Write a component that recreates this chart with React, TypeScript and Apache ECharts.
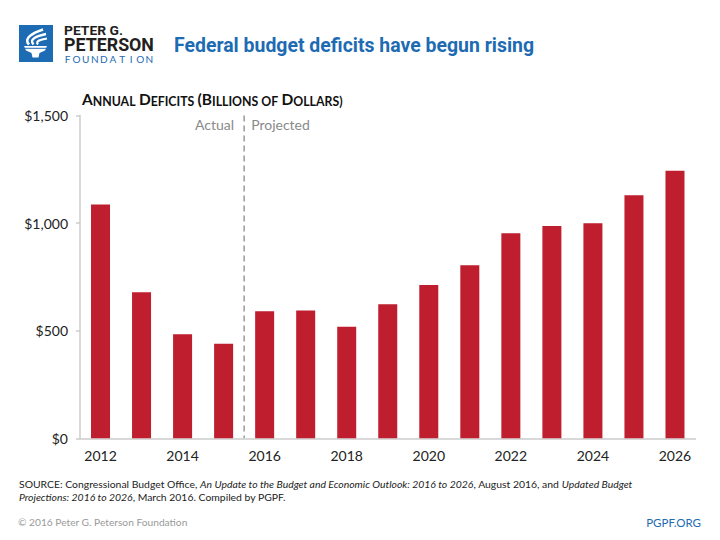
import React, { useEffect, useRef } from "react";
import * as echarts from "echarts";

const years = ["2012", "2013", "2014", "2015", "2016", "2017", "2018", "2019", "2020", "2021", "2022", "2023", "2024", "2025", "2026"];
const deficits = [1087, 679, 484, 439, 590, 594, 518, 623, 713, 804, 953, 987, 1000, 1130, 1244];
const yMin = 0;
const yMax = 1500;
const yStep = 500;
const lastActualYear = "2015";
const firstProjectedYear = "2016";

const BLUE = "#1d6bb3";
const RED = "#be1e2d";
const FONT = "Lato, 'Open Sans', sans-serif";
const HEAD = "Roboto, 'Liberation Sans', sans-serif";

function measure(text: string, font: string): number {
  const c = document.createElement("canvas").getContext("2d");
  if (!c) return 100;
  c.font = font;
  return c.measureText(text).width;
}

export default function App() {
  const ref = useRef<HTMLDivElement>(null);
  useEffect(() => {
    if (!ref.current) return;
    const chart = echarts.init(ref.current, null, { renderer: "svg" });
    chart.setOption({
      animation: false,
      backgroundColor: "#ffffff",
      grid: { left: 80, right: 24.5, top: 115.6, bottom: 101.7, containLabel: false },
      xAxis: {
        type: "category",
        data: years,
        axisLine: { show: true, lineStyle: { color: "#cccccc", width: 1.5 } },
        axisTick: { show: false },
        axisLabel: { interval: 1, fontSize: 14, color: "#222222", fontFamily: FONT, margin: 10 },
      },
      yAxis: {
        type: "value",
        min: yMin,
        max: yMax,
        interval: yStep,
        splitLine: { show: false },
        axisLine: { show: true, lineStyle: { color: "#cccccc", width: 1.5 } },
        axisTick: { show: true, length: 4, lineStyle: { color: "#cccccc", width: 1.5 } },
        axisLabel: {
          fontSize: 14,
          color: "#222222",
          fontFamily: FONT,
          margin: 12,
          formatter: (v: number) => "$" + v.toLocaleString("en-US"),
        },
      },
      series: [
        {
          type: "bar",
          data: deficits,
          barWidth: 19,
          itemStyle: { color: RED },
        },
      ],
    });

    const xa = chart.convertToPixel({ xAxisIndex: 0 }, lastActualYear) as number;
    const xb = chart.convertToPixel({ xAxisIndex: 0 }, firstProjectedYear) as number;
    const xMid = (xa + xb) / 2;
    const yTop = chart.convertToPixel({ yAxisIndex: 0 }, yMax) as number;
    const yBot = chart.convertToPixel({ yAxisIndex: 0 }, yMin) as number;

    const titleText = "Federal budget deficits have begun rising";
    const titleFont = `bold 20px ${HEAD}`;
    const titleScale = 360 / measure(titleText, titleFont);
    const petFont = `bold 19px ${HEAD}`;
    const petScale = 90 / measure("PETERSON", petFont);
    const peterFont = `bold 12.5px ${HEAD}`;
    const peterScale = 59 / measure("PETER G.", peterFont);

    const foundation = "FOUNDATION".split("").map((ch, i) => ({
      type: "text",
      x: 67.5 + i * 9.1,
      y: 58.6,
      style: { text: ch, fill: BLUE, font: `10px ${FONT}`, textVerticalAlign: "middle", textAlign: "center" },
    }));

    chart.setOption({
      graphic: [
        // logo
        { type: "rect", shape: { x: 19, y: 25, width: 34, height: 37 }, style: { fill: BLUE } },
        {
          type: "polygon",
          shape: { points: [[24, 46], [47, 46], [45, 50.5], [39.5, 53], [38.5, 57.5], [32.5, 57.5], [31.5, 53], [26, 50.5]] },
          style: { fill: "#ffffff" },
        },
        { type: "line", shape: { x1: 24, y1: 48.3, x2: 47, y2: 48.3 }, style: { stroke: BLUE, lineWidth: 1 } },
        {
          type: "bezierCurve",
          shape: { x1: 29, y1: 44.5, cpx1: 23, cpy1: 38, cpx2: 33, cpy2: 33, x2: 43, y2: 29.5 },
          style: { stroke: "#ffffff", lineWidth: 2.6, fill: "none" },
        },
        {
          type: "bezierCurve",
          shape: { x1: 33.5, y1: 44.5, cpx1: 28.5, cpy1: 39, cpx2: 37, cpy2: 36, x2: 46, y2: 34 },
          style: { stroke: "#ffffff", lineWidth: 2.4, fill: "none" },
        },
        {
          type: "bezierCurve",
          shape: { x1: 38, y1: 44.5, cpx1: 35, cpy1: 41, cpx2: 41, cpy2: 39.5, x2: 47, y2: 38.5 },
          style: { stroke: "#ffffff", lineWidth: 2.2, fill: "none" },
        },
        {
          type: "text", x: 64, y: 30.5, scaleX: peterScale,
          style: { text: "PETER G.", fill: "#231f20", font: peterFont, textVerticalAlign: "middle" },
        },
        {
          type: "text", x: 64, y: 44.5, scaleX: petScale,
          style: { text: "PETERSON", fill: "#231f20", font: petFont, textVerticalAlign: "middle" },
        },
        ...foundation,
        // title
        {
          type: "text", x: 174, y: 45.5, scaleX: titleScale,
          style: { text: titleText, fill: BLUE, font: titleFont, textVerticalAlign: "middle" },
        },
        // subtitle small caps
        {
          type: "text", x: 82, y: 99,
          style: {
            text: "{b|A}{s|NNUAL} {b|D}{s|EFICITS} {b|(B}{s|ILLIONS OF} {b|D}{s|OLLARS)}",
            textVerticalAlign: "middle",
            rich: {
              b: { font: `bold 15.5px ${FONT}`, fill: "#111111", verticalAlign: "bottom" },
              s: { font: `bold 12.3px ${FONT}`, fill: "#111111", verticalAlign: "bottom" },
            },
          },
        },
        // actual / projected divider
        {
          type: "line",
          shape: { x1: xMid, y1: yTop, x2: xMid, y2: yBot },
          style: { stroke: "#999999", lineWidth: 1.5, lineDash: [6, 4] },
        },
        {
          type: "text", x: xMid - 10, y: 124,
          style: { text: "Actual", fill: "#8a8a8a", font: `14px ${FONT}`, textAlign: "right", textVerticalAlign: "middle" },
        },
        {
          type: "text", x: xMid + 7, y: 124,
          style: { text: "Projected", fill: "#8a8a8a", font: `14px ${FONT}`, textAlign: "left", textVerticalAlign: "middle" },
        },
        // source
        {
          type: "text", x: 19, y: 484,
          style: {
            text: "{n|SOURCE: Congressional Budget Office, }{i|An Update to the Budget and Economic Outlook: 2016 to 2026}{n|, August 2016, and }{i|Updated Budget}",
            textVerticalAlign: "middle",
            rich: {
              n: { font: `10.4px ${FONT}`, fill: "#222222" },
              i: { font: `italic 10.4px ${FONT}`, fill: "#222222" },
            },
          },
        },
        {
          type: "text", x: 19, y: 497,
          style: {
            text: "{i|Projections: 2016 to 2026}{n|, March 2016. Compiled by PGPF.}",
            textVerticalAlign: "middle",
            rich: {
              n: { font: `10.4px ${FONT}`, fill: "#222222" },
              i: { font: `italic 10.4px ${FONT}`, fill: "#222222" },
            },
          },
        },
        {
          type: "text", x: 18, y: 522,
          style: { text: "© 2016 Peter G. Peterson Foundation", fill: "#9a9a9a", font: `10.2px ${FONT}`, textVerticalAlign: "middle" },
        },
        {
          type: "text", x: 701, y: 522,
          style: { text: "PGPF.ORG", fill: BLUE, font: `11.5px ${FONT}`, textAlign: "right", textVerticalAlign: "middle" },
        },
      ],
    });

    return () => chart.dispose();
  }, []);
  return <div ref={ref} style={{ position: "absolute", left: 0, top: 0, width: 720, height: 540 }} />;
}
